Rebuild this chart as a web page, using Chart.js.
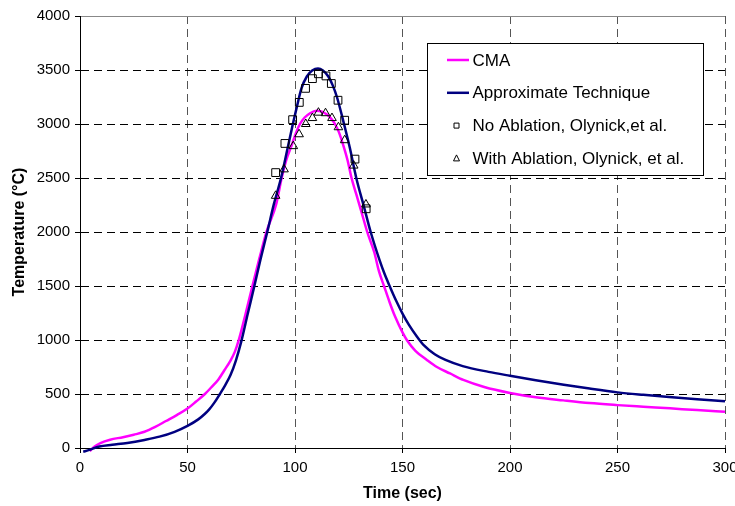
<!DOCTYPE html>
<html>
<head>
<meta charset="utf-8">
<script src="https://cdn.jsdelivr.net/npm/chart.js@4.4.0/dist/chart.umd.min.js"></script>
<style>
  html, body { margin: 0; padding: 0; background: #fff; }
  #wrap { width: 735px; height: 506px; }
</style>
</head>
<body>
<div id="wrap"><canvas id="c" width="735" height="506"></canvas></div>
<script>
// Surface temperature history, time in seconds, temperature in °C
const cmaTime = [4.5, 6.5, 9.5, 14, 20, 25, 30, 35, 40, 45, 50, 54, 58.1, 61, 64.3, 67, 70, 72, 74, 77, 80.2, 83.5, 86.7, 91.2, 93.8, 96, 98.4, 100.5, 102.3, 104.5, 107, 110, 112.5, 115, 117, 118.6, 120.5, 122.5, 124.5, 126.3, 128.5, 131, 133.6, 136.9, 139, 141.4, 144, 146.5, 150, 152, 156, 161.2, 166, 172.1, 178.3, 188, 200, 212, 224.8, 237, 250, 262, 274.4, 287, 300];
const cmaTemp = [-30, 10, 46, 77, 100, 123, 150, 195, 250, 305, 365, 430, 500, 560, 632, 715, 810, 890, 1010, 1240, 1500, 1760, 2000, 2253, 2500, 2670, 2800, 2920, 3000, 3060, 3100, 3123, 3115, 3085, 3045, 3000, 2920, 2800, 2660, 2500, 2350, 2180, 2000, 1810, 1640, 1500, 1350, 1219, 1070, 1000, 900, 818, 750, 690, 630, 565, 510, 470, 441, 416, 397, 382, 367, 351, 336];

const approxTime = [1.5, 4, 9, 15, 22, 30, 37, 44, 50, 55, 58, 60, 62.5, 65, 67.5, 70, 72.5, 75, 78, 81.1, 84, 87.1, 90.2, 93.5, 96.5, 99, 101, 103, 105.5, 108, 110.7, 113, 115.5, 117.5, 119.5, 122.8, 125.5, 128.5, 132, 135.2, 139.5, 141.5, 144, 147, 150, 153, 156.6, 160, 165, 170, 178, 190, 200, 212, 225, 237, 250, 262, 274, 287, 300];
const approxTemp = [-35, -20, 14, 30, 47, 75, 105, 150, 205, 265, 315, 355, 420, 498, 580, 675, 810, 985, 1240, 1500, 1750, 2000, 2260, 2500, 2770, 3000, 3170, 3330, 3440, 3495, 3515, 3495, 3440, 3360, 3250, 3000, 2780, 2500, 2240, 2000, 1730, 1620, 1500, 1365, 1245, 1140, 1035, 950, 868, 815, 758, 705, 669, 628, 586, 550, 515, 492, 472, 452, 432];

const noAblTime = [91, 95.3, 98.9, 102, 104.9, 108.1, 110.9, 114.4, 116.9, 120, 123.1, 127.9, 133.1];
const noAblTemp = [2550, 2820, 3040, 3200, 3330, 3420, 3465, 3445, 3375, 3220, 3035, 2675, 2215];

const withAblTime = [91, 94.9, 99.2, 101.9, 105, 108.1, 110.9, 114.2, 117.2, 120.2, 123.1, 127.3, 133];
const withAblTemp = [2335, 2580, 2795, 2905, 3000, 3055, 3105, 3100, 3055, 2970, 2850, 2615, 2255];

const seriesNames = ['CMA', 'Approximate Technique', 'No Ablation, Olynick,et al.', 'With Ablation, Olynick, et al.'];
const xTicks = [0, 50, 100, 150, 200, 250, 300];
const yTicks = [0, 500, 1000, 1500, 2000, 2500, 3000, 3500, 4000];

const pairs = (xs, ys) => xs.map((x, i) => ({ x: x, y: ys[i] }));

const FONT = "'Liberation Sans', Arial, Helvetica, sans-serif";
Chart.defaults.font.family = FONT;
Chart.defaults.color = '#000';

// Boxed legend drawn inside the plot area
const boxLegend = {
  id: 'boxLegend',
  afterDraw(chart) {
    const ctx = chart.ctx;
    const bx = 427, by = 43, bw = 276, bh = 132;
    ctx.save();
    ctx.fillStyle = '#fff';
    ctx.fillRect(bx, by, bw, bh);
    ctx.strokeStyle = '#000';
    ctx.lineWidth = 1;
    ctx.strokeRect(bx + 0.5, by + 0.5, bw, bh);
    ctx.font = '17px ' + FONT;
    ctx.textAlign = 'left';
    ctx.textBaseline = 'middle';
    chart.data.datasets.forEach((ds, i) => {
      const cy = by + 17 + i * 32.8;
      if (ds.showLine) {
        ctx.strokeStyle = ds.borderColor;
        ctx.lineWidth = ds.borderWidth;
        ctx.beginPath();
        ctx.moveTo(bx + 20, cy);
        ctx.lineTo(bx + 42, cy);
        ctx.stroke();
      } else {
        ctx.strokeStyle = '#000';
        ctx.lineWidth = 1;
        const mx = bx + 29.5;
        ctx.beginPath();
        if (ds.pointStyle === 'rect') {
          ctx.rect(mx - 2.5, cy - 2.5, 5, 5);
        } else {
          ctx.moveTo(mx, cy - 3.5);
          ctx.lineTo(mx + 3, cy + 2.5);
          ctx.lineTo(mx - 3, cy + 2.5);
          ctx.closePath();
        }
        ctx.stroke();
      }
      ctx.fillStyle = '#000';
      ctx.fillText(ds.label, bx + 45.5, cy + 1);
    });
    ctx.restore();
  }
};

const lineClip = { left: 5, top: 5, right: 5, bottom: 6 };

new Chart(document.getElementById('c'), {
  type: 'scatter',
  data: {
    datasets: [
      {
        label: seriesNames[0],
        data: pairs(cmaTime, cmaTemp),
        showLine: true,
        borderColor: '#FF00FF',
        backgroundColor: '#FF00FF',
        borderWidth: 2.5,
        pointRadius: 0,
        cubicInterpolationMode: 'monotone',
        clip: lineClip,
        order: 3
      },
      {
        label: seriesNames[1],
        data: pairs(approxTime, approxTemp),
        showLine: true,
        borderColor: '#000080',
        backgroundColor: '#000080',
        borderWidth: 2.5,
        pointRadius: 0,
        cubicInterpolationMode: 'monotone',
        clip: lineClip,
        order: 2
      },
      {
        label: seriesNames[2],
        data: pairs(noAblTime, noAblTemp),
        showLine: false,
        pointStyle: 'rect',
        pointRadius: 5.5,
        pointBorderWidth: 1,
        pointBorderColor: '#000',
        pointBackgroundColor: 'rgba(0,0,0,0)',
        order: 1
      },
      {
        label: seriesNames[3],
        data: pairs(withAblTime, withAblTemp),
        showLine: false,
        pointStyle: 'triangle',
        pointRadius: 5,
        pointBorderWidth: 1,
        pointBorderColor: '#000',
        pointBackgroundColor: 'rgba(0,0,0,0)',
        order: 0
      }
    ]
  },
  options: {
    responsive: false,
    animation: false,
    devicePixelRatio: 1,
    layout: { padding: { top: 16, right: 10, bottom: 0, left: 0 } },
    plugins: {
      legend: { display: false },
      tooltip: { enabled: false }
    },
    scales: {
      x: {
        type: 'linear',
        min: 0,
        max: 300,
        afterBuildTicks: (s) => { s.ticks = xTicks.map(v => ({ value: v })); },
        afterFit: (s) => { s.height = 58; s.paddingLeft = 0; s.paddingRight = 0; },
        ticks: { font: { size: 15 }, color: '#000', padding: 6, maxRotation: 0, callback: (v) => String(v) },
        grid: {
          color: '#555',
          lineWidth: 1,
          drawTicks: true,
          tickLength: 5,
          tickColor: '#000',
          tickWidth: 1,
          tickBorderDash: []
        },
        border: { display: true, color: '#000', width: 1, dash: [8, 5] },
        title: {
          display: true,
          text: 'Time (sec)',
          font: { size: 16, weight: 'bold', lineHeight: 1 },
          color: '#000',
          padding: { top: 0, bottom: 4 }
        }
      },
      y: {
        type: 'linear',
        min: 0,
        max: 4000,
        afterBuildTicks: (s) => { s.ticks = yTicks.map(v => ({ value: v })); },
        afterFit: (s) => { s.width = 80; s.paddingTop = 0; s.paddingBottom = 0; },
        ticks: { font: { size: 15 }, color: '#000', padding: 5, callback: (v) => String(v) },
        grid: {
          color: (c) => (c.tick && c.tick.value === 4000) ? '#888' : '#000',
          lineWidth: 1,
          drawTicks: true,
          tickLength: 5,
          tickColor: '#000',
          tickWidth: 1,
          tickBorderDash: []
        },
        border: {
          display: true,
          color: '#000',
          width: 1,
          dash: (c) => (c.tick && c.tick.value === 4000) ? [] : [8, 5]
        },
        title: {
          display: true,
          text: 'Temperature (°C)',
          font: { size: 16, weight: 'bold', lineHeight: 1 },
          color: '#000',
          padding: { top: 12, bottom: 0 }
        }
      }
    }
  },
  plugins: [boxLegend]
});
</script>
</body>
</html>
